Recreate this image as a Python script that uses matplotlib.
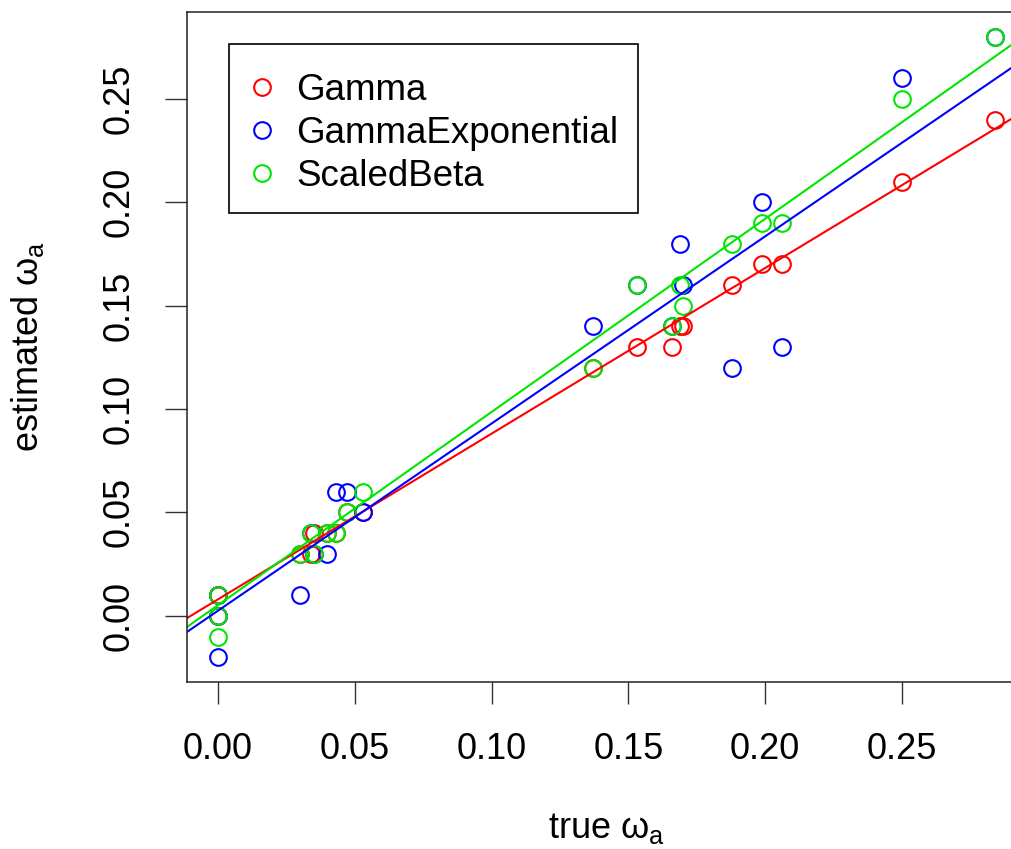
import numpy as np
import matplotlib
matplotlib.use("Agg")
import matplotlib.pyplot as plt
from matplotlib.patches import Rectangle

plt.rcParams['font.family'] = ['Liberation Sans', 'DejaVu Sans']
plt.rcParams['mathtext.fontset'] = 'custom'
plt.rcParams['mathtext.rm'] = 'Liberation Sans'
plt.rcParams['mathtext.it'] = 'Liberation Sans'
plt.rcParams['mathtext.sf'] = 'Liberation Sans'

# true omega_a and the three estimators
true_w = [0.0, 0.0, 0.0, 0.030, 0.034, 0.035, 0.040, 0.043, 0.047, 0.053,
          0.137, 0.153, 0.166, 0.169, 0.170, 0.188, 0.199, 0.206, 0.250, 0.284]
gamma = [0.01, 0.01, 0.00, 0.03, 0.03, 0.04, 0.04, 0.04, 0.05, 0.05,
         0.12, 0.13, 0.13, 0.14, 0.14, 0.16, 0.17, 0.17, 0.21, 0.24]
gamma_exp = [0.00, 0.01, -0.02, 0.01, 0.04, 0.03, 0.03, 0.06, 0.06, 0.05,
             0.14, 0.16, 0.14, 0.18, 0.16, 0.12, 0.20, 0.13, 0.26, 0.28]
scaled_beta = [0.01, 0.00, -0.01, 0.03, 0.04, 0.03, 0.04, 0.04, 0.05, 0.06,
               0.12, 0.16, 0.14, 0.16, 0.15, 0.18, 0.19, 0.19, 0.25, 0.28]

# regression lines (intercept, slope) for each estimator
fit_intercept = [0.0080, 0.0025, 0.0052]
fit_slope = [0.801, 0.905, 0.934]

names = ["Gamma", "GammaExponential", "ScaledBeta"]
series = [gamma, gamma_exp, scaled_beta]
colors = ["#FF0000", "#0000FF", "#00E600"]
ticks = [0.00, 0.05, 0.10, 0.15, 0.20, 0.25]

W, H = 1011, 849
fig = plt.figure(figsize=(W / 100, H / 100), dpi=100)
ax = fig.add_axes([187 / W, 1 - 682 / H, (1026 - 187) / W, (682 - 12) / H])

x = np.array(true_w)
for name, est, col in zip(names, series, colors):
    ax.plot(x, est, 'o', ms=12, mfc='none', mec=col, mew=1.5, label=name)
for b, m, col in zip(fit_intercept, fit_slope, colors):
    ax.axline((0, b), slope=m, color=col, lw=1.5)

# R-style 4% padding
xr = x.max() - x.min()
ally = np.concatenate(series)
yr = ally.max() - ally.min()
ax.set_xlim(x.min() - 0.04 * xr, x.max() + 0.04 * xr)
ax.set_ylim(ally.min() - 0.04 * yr, ally.max() + 0.04 * yr)

ax.set_xticks(ticks)
ax.set_yticks(ticks)
ax.set_xticklabels([f"{t:.2f}" for t in ticks])
ax.set_yticklabels([f"{t:.2f}" for t in ticks], rotation=90, va='center')
ax.tick_params(labelsize=26, length=16, width=1, pad=20, color='#333333')
for s in ax.spines.values():
    s.set_linewidth(1.1)
    s.set_color('#222222')

ax.set_xlabel(r"true $\omega_\mathrm{a}$", fontsize=26, labelpad=32)
ax.set_ylabel(r"estimated $\omega_\mathrm{a}$", fontsize=26, labelpad=40)

# legend entries without frame, box drawn separately
leg = ax.legend(loc='upper left', bbox_to_anchor=((244 - 187) / 839, (682 - 73) / 670),
                fontsize=26.5, frameon=False, handlelength=1.0, handletextpad=0.42,
                labelspacing=0.22, borderpad=0, borderaxespad=0)
ax.add_patch(Rectangle(((229 - 187) / 839, (682 - 213) / 670), (638 - 229) / 839, (213 - 44) / 670,
                       transform=ax.transAxes, fill=False, ec='black', lw=1.2, zorder=5))

fig.savefig("out.png", dpi=100)
